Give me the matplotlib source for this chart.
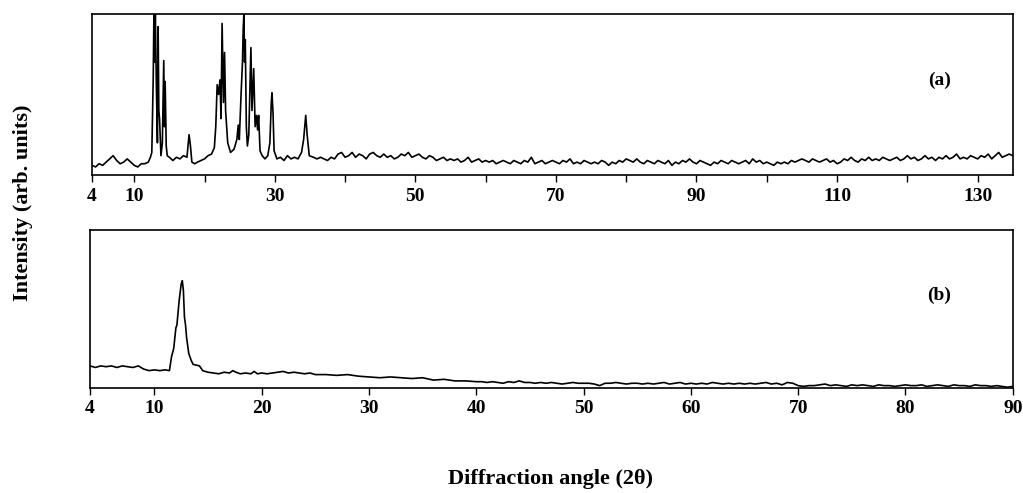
import numpy as np
import matplotlib
matplotlib.use("Agg")
import matplotlib.pyplot as plt

plt.rcParams['font.family'] = ['Liberation Serif', 'DejaVu Serif']
plt.rcParams['font.weight'] = 'bold'

# ---- panel (a): peak region (2theta, intensity 0-100) ----
peaks_a_theta = [4.0, 4.5, 5.0, 5.5, 6.0, 6.5, 7.0, 7.5, 8.0, 8.5, 9.0, 9.5, 10.0, 10.5, 11.0, 11.5,
                 12.0, 12.3, 12.5, 12.7, 12.8, 12.9, 13.0, 13.15, 13.3, 13.4, 13.5, 13.6, 13.8, 14.0,
                 14.2, 14.3, 14.4, 14.55, 14.7, 15.0, 15.5, 16.0, 16.5, 17.0, 17.5, 17.8, 18.0, 18.2,
                 18.6, 19.0, 19.5, 20.0, 20.5, 21.0, 21.4, 21.6, 21.8, 22.0, 22.2, 22.35, 22.5, 22.7,
                 22.85, 23.0, 23.3, 23.7, 24.2, 24.6, 24.8, 24.95, 25.2, 25.4, 25.5, 25.6, 25.7, 25.8,
                 25.95, 26.1, 26.3, 26.6, 26.75, 27.0, 27.2, 27.4, 27.55, 27.7, 27.9, 28.2, 28.6, 29.0,
                 29.3, 29.5, 29.6, 29.75, 29.9, 30.3, 30.8, 31.3, 31.8, 32.3, 32.8, 33.3, 33.8, 34.1,
                 34.4, 34.6, 34.9, 35.5, 36.0, 36.5, 37.0, 37.5, 38.0, 38.5, 39.0, 39.5, 40.0]
peaks_a_int = [6, 5, 7, 6, 8, 10, 12, 9, 7, 8, 10, 8, 6, 5, 7, 7,
               8, 11, 14, 60, 100, 70, 100, 55, 20, 92, 40, 35, 12, 20,
               71, 30, 58, 18, 12, 11, 9, 11, 10, 12, 11, 25, 18, 8,
               7, 8, 9, 10, 12, 13, 17, 30, 56, 50, 59, 35, 94, 45,
               76, 40, 20, 14, 16, 22, 31, 22, 50, 70, 90, 100, 70, 84,
               30, 18, 25, 79, 40, 66, 30, 37, 28, 37, 15, 12, 10, 12,
               20, 45, 51, 38, 15, 10, 11, 9, 12, 10, 11, 10, 14, 22,
               37, 25, 12, 11, 10, 11, 10, 9, 11, 10, 13, 14, 11]

# baseline of (a) from 40.5 to 135 deg, scan step 0.5 deg
tail_a_theta = np.arange(40.5, 135.01, 0.5)
tail_a_int = [12, 14, 11, 13, 12, 10, 13, 14, 12, 11,
              13, 11, 12, 10, 11, 13, 12, 14, 11, 12,
              13, 11, 10, 12, 11, 9, 10, 11, 9, 10,
              9, 10, 8, 9, 11, 8, 9, 10, 8, 9,
              8, 9, 7, 8, 9, 8, 7, 9, 8, 7,
              9, 8, 11, 7, 8, 9, 7, 8, 9, 8,
              7, 9, 8, 10, 7, 8, 7, 9, 8, 7,
              8, 7, 9, 8, 6, 8, 7, 9, 8, 10,
              9, 8, 10, 8, 7, 9, 8, 7, 9, 8,
              7, 9, 6, 8, 7, 9, 8, 10, 8, 7,
              9, 8, 7, 6, 8, 7, 9, 8, 7, 9,
              8, 7, 8, 9, 7, 10, 8, 9, 7, 8,
              7, 6, 8, 7, 8, 7, 9, 8, 9, 10,
              9, 8, 10, 9, 8, 9, 10, 8, 9, 7,
              8, 10, 9, 11, 9, 8, 10, 9, 11, 9,
              10, 9, 11, 10, 9, 10, 11, 9, 10, 12,
              10, 11, 9, 10, 12, 10, 11, 9, 11, 10,
              12, 10, 11, 13, 10, 11, 10, 12, 11, 10,
              12, 11, 13, 10, 12, 14, 11, 12, 13, 12]

# ---- panel (b) ----
peaks_b_theta = [4.0, 4.5, 5.0, 5.5, 6.0, 6.5, 7.0, 7.5, 8.0, 8.5, 9.0, 9.5, 10.0, 10.5, 11.0, 11.4,
                 11.6, 11.8, 12.0, 12.1, 12.3, 12.5, 12.6, 12.7, 12.8, 12.9, 13.0, 13.2, 13.4, 13.6,
                 13.9, 14.2, 14.5, 15.0, 15.5, 16.0, 16.5, 17.0, 17.3, 17.6, 18.0, 18.5, 19.0, 19.3,
                 19.6, 20.0, 20.5, 21.0, 21.5, 22.0, 22.5, 23.0, 23.5, 24.0, 24.5, 25.0, 26.0, 27.0,
                 28.0, 29.0, 30.0, 31.0, 32.0, 33.0, 34.0, 35.0, 36.0, 37.0, 38.0, 39.0, 40.0]
peaks_b_int = [14, 13, 14, 13.5, 14, 13, 14, 13.5, 13, 14, 12, 11, 11.5, 11, 11.5, 11,
               20, 25, 38, 40, 55, 66, 68, 62, 45, 40, 32, 22, 18, 15,
               14.5, 14, 11, 10, 9.5, 9, 10, 9.5, 11, 10, 9, 9.5, 9, 10.5,
               9, 9.5, 9, 9.5, 10, 10.5, 9.5, 10, 9.5, 9, 9.5, 8.5, 8.5, 8,
               8.5, 7.5, 7, 6.5, 7, 6.5, 6, 6.5, 5, 5.5, 4.5, 4.5, 4]

tail_b_theta = np.arange(40.5, 90.01, 0.5)
tail_b_int = [4, 3.5, 4, 3.5, 3, 4, 3.5, 4.5, 3.5, 3.5,
              3, 3.5, 3, 3.5, 3, 2.5, 3, 3.5, 3, 3,
              3, 2.5, 1.5, 3, 3, 3.5, 3, 2.5, 3, 3,
              2.5, 3, 2.5, 3, 3.5, 2.5, 3, 3.5, 2.5, 3,
              2.5, 3, 2.5, 3.5, 3, 2.5, 3, 2.5, 3, 2.5,
              3, 2.5, 3, 3.5, 2.5, 3, 2, 3.5, 3, 1.5,
              1, 1.5, 1.5, 2, 2.5, 1.5, 2, 1.5, 1, 2,
              1.5, 2, 1.5, 1, 2, 1.5, 1.5, 1, 1.5, 2,
              1.5, 1.5, 2, 1, 1.5, 2, 1.5, 1, 2, 1.5,
              1.5, 1, 2, 1.5, 1.5, 1, 1.5, 1, 0.5, 1]

ticks_a = [4, 10, 20, 30, 40, 50, 60, 70, 80, 90, 100, 110, 120, 130]
labels_a = ['4', '10', '', '30', '', '50', '', '70', '', '90', '', '110', '', '130']
ticks_b = [4, 10, 20, 30, 40, 50, 60, 70, 80, 90]
labels_b = ['4', '10', '20', '30', '40', '50', '60', '70', '80', '90']

x_a = np.concatenate([peaks_a_theta, tail_a_theta])
y_a = np.concatenate([peaks_a_int, tail_a_int])
x_b = np.concatenate([peaks_b_theta, tail_b_theta])
y_b = np.concatenate([peaks_b_int, tail_b_int])

fig = plt.figure(figsize=(10.23, 4.93), dpi=100)
ax1 = fig.add_axes([0.090, 0.645, 0.900, 0.327])
ax2 = fig.add_axes([0.088, 0.213, 0.902, 0.320])

ax1.plot(x_a, y_a, color='black', lw=1.2)
ax1.set_xlim(4, 135)
ax1.set_ylim(0, 100)
ax1.set_xticks(ticks_a)
ax1.set_xticklabels(labels_a)
ax1.text(0.92, 0.59, '(a)', transform=ax1.transAxes, ha='center', va='center',
         fontsize=14, fontweight='bold')

ax2.plot(x_b, y_b, color='black', lw=1.2)
ax2.set_xlim(4, 90)
ax2.set_ylim(0, 100)
ax2.set_xticks(ticks_b)
ax2.set_xticklabels(labels_b)
ax2.text(0.92, 0.59, '(b)', transform=ax2.transAxes, ha='center', va='center',
         fontsize=14, fontweight='bold')

for ax in (ax1, ax2):
    ax.set_yticks([])
    ax.tick_params(axis='x', direction='out', length=5, width=1, pad=4, labelsize=14)
    for lbl in ax.get_xticklabels():
        lbl.set_fontweight('bold')
    for sp in ax.spines.values():
        sp.set_linewidth(1.2)

fig.text(0.022, 0.588, 'Intensity (arb. units)', rotation=90, ha='center', va='center',
         fontsize=16, fontweight='bold')
fig.text(0.538, 0.028, 'Diffraction angle (2θ)', ha='center', va='center',
         fontsize=16, fontweight='bold')

fig.savefig('out.png', dpi=100)
